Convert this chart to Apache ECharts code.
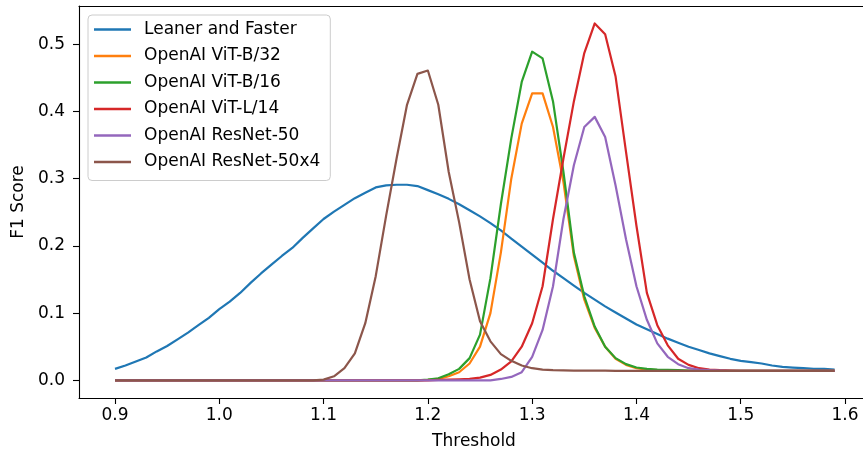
<!DOCTYPE html>
<html>
<head>
<meta charset="utf-8">
<script src="https://cdn.jsdelivr.net/npm/echarts@6/dist/echarts.min.js"></script>
<style>
html,body{margin:0;padding:0;background:#fff;}
#chart{width:863px;height:453px;}
</style>
</head>
<body>
<div id="chart"></div>
<script>
const thresholds = [
  0.90,0.91,0.92,0.93,0.94,0.95,0.96,0.97,0.98,0.99,
  1.00,1.01,1.02,1.03,1.04,1.05,1.06,1.07,1.08,1.09,
  1.10,1.11,1.12,1.13,1.14,1.15,1.16,1.17,1.18,1.19,
  1.20,1.21,1.22,1.23,1.24,1.25,1.26,1.27,1.28,1.29,
  1.30,1.31,1.32,1.33,1.34,1.35,1.36,1.37,1.38,1.39,
  1.40,1.41,1.42,1.43,1.44,1.45,1.46,1.47,1.48,1.49,
  1.50,1.51,1.52,1.53,1.54,1.55,1.56,1.57,1.58,1.59
];
const seriesNames = ["Leaner and Faster","OpenAI ViT-B/32","OpenAI ViT-B/16","OpenAI ViT-L/14","OpenAI ResNet-50","OpenAI ResNet-50x4"];
const leanerFaster = [
  0.017,0.022,0.028,0.034,0.043,0.051,0.061,0.071,0.082,0.093,
  0.106,0.117,0.130,0.145,0.159,0.172,0.185,0.197,0.212,0.226,
  0.240,0.251,0.261,0.271,0.279,0.287,0.290,0.291,0.291,0.289,
  0.283,0.277,0.270,0.262,0.253,0.244,0.234,0.223,0.211,0.199,
  0.187,0.175,0.163,0.152,0.141,0.130,0.120,0.110,0.101,0.092,
  0.083,0.076,0.069,0.062,0.056,0.050,0.045,0.040,0.036,0.032,
  0.029,0.027,0.025,0.022,0.020,0.019,0.018,0.017,0.017,0.016
];
const vitB32 = [
  0,0,0,0,0,0,0,0,0,0,
  0,0,0,0,0,0,0,0,0,0,
  0,0,0,0,0,0,0,0,0,0,
  0.0005,0.002,0.006,0.012,0.025,0.050,0.100,0.190,0.300,0.382,
  0.427,0.427,0.377,0.295,0.185,0.120,0.078,0.050,0.032,0.023,
  0.018,0.016,0.015,0.0145,0.014,0.014,0.014,0.014,0.014,0.014,
  0.014,0.014,0.014,0.014,0.014,0.014,0.014,0.014,0.014,0.014
];
const vitB16 = [
  0,0,0,0,0,0,0,0,0,0,
  0,0,0,0,0,0,0,0,0,0,
  0,0,0,0,0,0,0,0,0,0,
  0.001,0.003,0.009,0.017,0.033,0.068,0.152,0.262,0.360,0.444,
  0.489,0.479,0.415,0.310,0.190,0.125,0.080,0.050,0.033,0.024,
  0.019,0.017,0.016,0.0155,0.015,0.0145,0.014,0.014,0.014,0.014,
  0.014,0.014,0.014,0.014,0.014,0.014,0.014,0.014,0.014,0.014
];
const vitL14 = [
  0,0,0,0,0,0,0,0,0,0,
  0,0,0,0,0,0,0,0,0,0,
  0,0,0,0,0,0,0,0,0,0,
  0,0.0005,0.001,0.0015,0.002,0.004,0.008,0.016,0.028,0.050,
  0.085,0.140,0.240,0.330,0.415,0.487,0.531,0.515,0.452,0.340,
  0.230,0.130,0.082,0.052,0.032,0.023,0.018,0.016,0.015,0.0145,
  0.014,0.014,0.014,0.014,0.014,0.014,0.014,0.014,0.014,0.014
];
const resnet50 = [
  0,0,0,0,0,0,0,0,0,0,
  0,0,0,0,0,0,0,0,0,0,
  0,0,0,0,0,0,0,0,0,0,
  0,0,0,0,0,0,0,0.002,0.005,0.012,
  0.035,0.075,0.140,0.240,0.320,0.377,0.392,0.362,0.290,0.210,
  0.140,0.090,0.055,0.035,0.024,0.018,0.016,0.015,0.0145,0.014,
  0.014,0.014,0.014,0.014,0.014,0.014,0.014,0.014,0.014,0.014
];
const resnet50x4 = [
  0,0,0,0,0,0,0,0,0,0,
  0,0,0,0,0,0,0,0,0,0,
  0.001,0.006,0.018,0.040,0.085,0.155,0.245,0.330,0.410,0.456,
  0.461,0.410,0.310,0.235,0.150,0.088,0.058,0.039,0.029,0.022,
  0.018,0.016,0.015,0.0148,0.0145,0.0145,0.0143,0.0143,0.014,0.014,
  0.014,0.014,0.014,0.014,0.014,0.014,0.014,0.014,0.014,0.014,
  0.014,0.014,0.014,0.014,0.014,0.014,0.014,0.014,0.014,0.014
];
const xTicks = [0.9,1.0,1.1,1.2,1.3,1.4,1.5,1.6];
const yTicks = [0.0,0.1,0.2,0.3,0.4,0.5];
const colors = ["#1f77b4","#ff7f0e","#2ca02c","#d62728","#9467bd","#8c564b"];

const allValues = [leanerFaster, vitB32, vitB16, vitL14, resnet50, resnet50x4];
const FONT = "DejaVu Sans";
const chart = echarts.init(document.getElementById('chart'), null, {renderer:'canvas'});
const xMin = 0.86548, xMax = 1.61724, yMin = -0.02634, yMax = 0.557;

const series = allValues.map((vals, i) => ({
  name: seriesNames[i],
  type: 'line',
  data: thresholds.map((t, k) => [t, vals[k]]),
  showSymbol: false,
  symbol: 'none',
  lineStyle: {color: colors[i], width: 2.2, join: 'round'},
  itemStyle: {color: colors[i]},
  z: 2 + i
}));

chart.setOption({
  animation: false,
  backgroundColor: '#fff',
  color: colors,
  grid: {left: 79, top: 6, right: 0, bottom: 55, containLabel: false, outerBoundsMode: 'none'},
  legend: {
    orient: 'vertical',
    left: 88, top: 15,
    icon: 'rect',
    itemWidth: 37, itemHeight: 2.5,
    itemGap: 7.5,
    padding: [5, 10, 9, 6],
    backgroundColor: 'rgba(255,255,255,0.8)',
    borderColor: '#cccccc', borderWidth: 1, borderRadius: 4,
    textStyle: {fontFamily: FONT, fontSize: 17, color: '#000', lineHeight: 19, padding: [0,0,0,8]},
    data: seriesNames
  },
  xAxis: [{
    type: 'value', min: xMin, max: xMax, position: 'bottom',
    name: 'Threshold', nameLocation: 'middle', nameGap: 35,
    nameTextStyle: {fontFamily: FONT, fontSize: 17, color: '#000', padding: [0,0,0,6]},
    axisLine: {show: true, onZero: false, lineStyle: {color: '#000', width: 1.1}},
    axisTick: {show: true, length: 6, customValues: xTicks, lineStyle: {color: '#000', width: 1.1}},
    axisLabel: {customValues: xTicks, margin: 9, fontFamily: FONT, fontSize: 17, color: '#000',
      formatter: v => v.toFixed(1)},
    splitLine: {show: false}
  }, {
    type: 'value', min: xMin, max: xMax, position: 'top',
    axisLine: {show: true, onZero: false, lineStyle: {color: '#000', width: 1.1}},
    axisTick: {show: false}, axisLabel: {show: false}, splitLine: {show: false}
  }],
  yAxis: {
    type: 'value', min: yMin, max: yMax,
    name: 'F1 Score', nameLocation: 'middle', nameGap: 49, nameRotate: 90,
    nameTextStyle: {fontFamily: FONT, fontSize: 17, color: '#000'},
    axisLine: {show: true, onZero: false, lineStyle: {color: '#000', width: 1.1}},
    axisTick: {show: true, length: 6, customValues: yTicks, lineStyle: {color: '#000', width: 1.1}},
    axisLabel: {customValues: yTicks, margin: 14, fontFamily: FONT, fontSize: 17, color: '#000',
      formatter: v => v.toFixed(1)},
    splitLine: {show: false}
  },
  series: series
});
</script>
</body>
</html>
